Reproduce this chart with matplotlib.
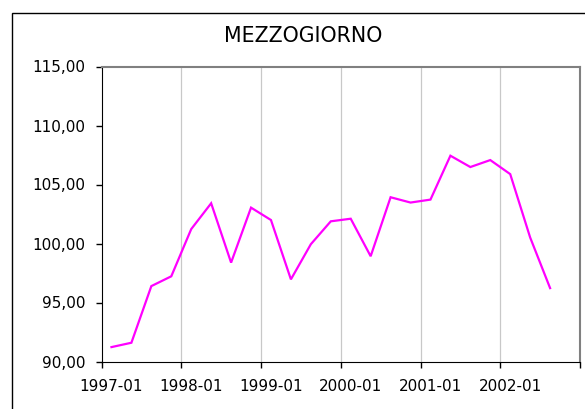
import matplotlib
matplotlib.use("Agg")
import matplotlib.pyplot as plt
from matplotlib.patches import Rectangle

plt.rcParams['font.family'] = ['DejaVu Sans']

# valori trimestrali, 1997-01 .. 2002-03 (ultimo trimestre mancante)
valori = [91.22, 91.59, 96.39, 97.22,
          101.22, 103.41, 98.38, 103.04,
          101.99, 96.96, 99.94, 101.88,
          102.10, 98.92, 103.92, 103.47,
          103.72, 107.44, 106.48, 107.07,
          105.88, 100.51, 96.22]
anni = ['1997-01', '1998-01', '1999-01', '2000-01', '2001-01', '2002-01']
livelli_y = [90, 95, 100, 105, 110, 115]
n_cat = 4 * len(anni)

W, H = 585, 409
fig = plt.figure(figsize=(W / 100, H / 100), dpi=100)
ax = fig.add_axes([101.5 / W, 1 - 361.5 / H, (580 - 101.5) / W, (361.5 - 66.5) / H])

# cornice esterna del grafico
fig.patches.append(Rectangle((11.5 / W, -0.1), 1.2, 1 - 13 / H + 0.1,
                             transform=fig.transFigure, fill=False,
                             edgecolor='black', linewidth=1.0))

x = list(range(len(valori)))
ax.plot(x, valori, color='#FF00FF', linewidth=1.6, solid_joinstyle='miter')

ax.set_xlim(-0.5, n_cat - 0.5)
ax.set_ylim(90, 115)
ax.set_yticks(livelli_y)
ax.set_yticklabels([f'{v:.2f}'.replace('.', ',') for v in livelli_y])

confini = [i * 4 - 0.5 for i in range(len(anni) + 1)]
ax.set_xticks(confini)
ax.set_xticklabels([])
ax.set_xticks([i * 4 for i in range(len(anni))], minor=True)
ax.set_xticklabels(anni, minor=True)
ax.tick_params(axis='x', which='minor', length=0, pad=12.5, labelsize=11)
ax.tick_params(axis='x', which='major', length=4, width=1, direction='out')
ax.tick_params(axis='y', length=4, width=1, direction='out', pad=7.5, labelsize=11)

for c in confini[1:-1]:
    ax.axvline(c, color='#C8C8C8', linewidth=0.9, zorder=0)

ax.spines['left'].set_color('black')
ax.spines['bottom'].set_color('black')
for s in ['top', 'right']:
    ax.spines[s].set_color('#808080')
    ax.spines[s].set_linewidth(1.5)

fig.text(303 / W, 1 - 42.3 / H, 'MEZZOGIORNO', ha='center', va='baseline', fontsize=14.8)

fig.savefig('out.png', dpi=100)
